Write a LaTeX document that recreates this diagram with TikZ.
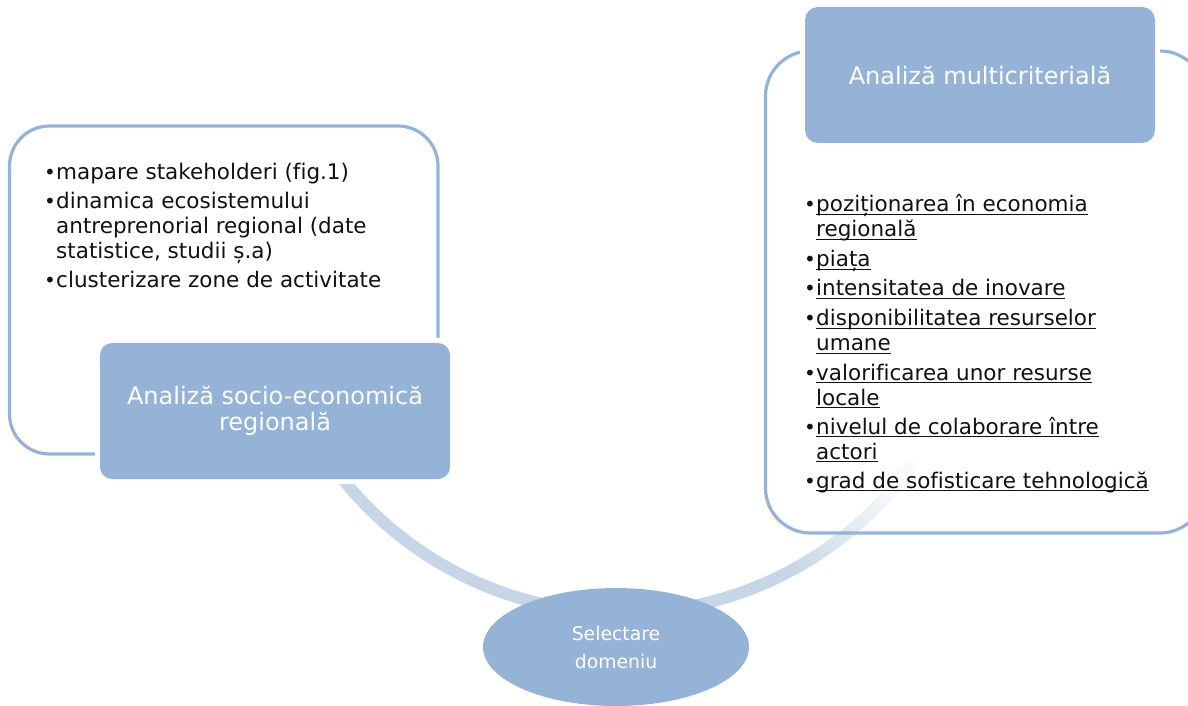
\documentclass[tikz,border=0pt]{standalone}
\usepackage{fontspec}
\setmainfont{DejaVu Sans}[Ligatures=NoCommon]
\usetikzlibrary{shapes.geometric}
\definecolor{boxblue}{HTML}{95B3D6}
\definecolor{bandblue}{HTML}{C6D6E6}
\definecolor{txt}{HTML}{111111}
\newcommand\myul[1]{\setbox0=\hbox{#1}\rlap{\rule[-3pt]{\wd0}{1.4pt}}\box0}
\newcommand\bulfont{\fontsize{21.5}{25}\selectfont}
\newcommand\titfont{\fontsize{24}{26}\selectfont}
\tikzset{
  outerbox/.style={draw=boxblue, line width=3.2pt},
  titlebox/.style={rectangle, rounded corners=12pt, fill=boxblue, text=white,
    preaction={draw=white, line width=10pt}, inner sep=0pt, align=center, font=\titfont},
  itemline/.style={anchor=base west, inner sep=0pt, text=txt, font=\bulfont},
  bulletmark/.style={anchor=base west, inner sep=0pt, text=txt, font=\fontsize{20}{20}\selectfont},
}
\begin{document}
\begin{tikzpicture}[x=1pt,y=1pt]
\useasboundingbox (0,0) rectangle (1188,705);
% circular band
\coordinate (C) at (622,450);
\draw[bandblue, line width=12pt] (C) ++(212:358pt) arc[start angle=212, end angle=299, radius=358pt];
\foreach \k in {0,...,21}{
  \pgfmathsetmacro\pc{96-4.2*\k}
  \pgfmathsetmacro\aa{298.5+\k}
  \draw[bandblue!\pc!white, line width=12pt] (C) ++(\aa:358pt) arc[start angle=\aa, end angle=\aa+1.15, radius=358pt];
}
\path (C) ++(321:345pt) coordinate (h1);
\path (C) ++(321:371pt) coordinate (h2);
\path (C) ++(325.6:358pt) coordinate (h3);
\fill[bandblue!12!white] (h1) -- (h2) -- (h3) -- cycle;
% outer boxes
\draw[outerbox, rounded corners=40pt] (9.5,251) rectangle (438,579);
\draw[outerbox, rounded corners=45pt] (765.5,172) rectangle (1205,654);
% title boxes
\node[titlebox, minimum width=350pt, minimum height=136pt] (lt) at (275,294) {Analiză socio-economică\\regională};
\node[titlebox, minimum width=350pt, minimum height=136pt, rounded corners=13pt] (rt) at (980,630) {Analiză multicriterială};
% ellipse
\node[ellipse, fill=boxblue, minimum width=266pt, minimum height=118pt, inner sep=0pt,
  text=white, align=center, font=\fontsize{18.8}{28}\selectfont] (sel) at (616,58) {Selectare\\domeniu};
% left bullets
\node[bulletmark] (lb1) at (44,525) {•};
\node[itemline] (l1) at (56,525) {mapare stakeholderi (fig.1)};
\node[bulletmark] (lb2) at (44,496) {•};
\node[itemline] (l2) at (56,496) {dinamica ecosistemului};
\node[itemline] (l3) at (56,471) {antreprenorial regional (date};
\node[itemline] (l4) at (56,446) {statistice, studii ș.a)};
\node[bulletmark] (lb3) at (44,417) {•};
\node[itemline] (l5) at (56,417) {clusterizare zone de activitate};
% right bullets
\node[bulletmark] (rb1) at (804,493) {•};
\node[itemline] (r1) at (816,493) {\myul{poziționarea în economia}};
\node[itemline] (r2) at (816,468) {\myul{regională}};
\node[bulletmark] (rb2) at (804,438) {•};
\node[itemline] (r3) at (816,438) {\myul{piața}};
\node[bulletmark] (rb3) at (804,409) {•};
\node[itemline] (r4) at (816,409) {\myul{intensitatea de inovare}};
\node[bulletmark] (rb4) at (804,379) {•};
\node[itemline] (r5) at (816,379) {\myul{disponibilitatea resurselor}};
\node[itemline] (r6) at (816,354) {\myul{umane}};
\node[bulletmark] (rb5) at (804,325) {•};
\node[itemline] (r7) at (816,325) {\myul{valorificarea unor resurse}};
\node[itemline] (r8) at (816,300) {\myul{locale}};
\node[bulletmark] (rb6) at (804,271) {•};
\node[itemline] (r9) at (816,271) {\myul{nivelul de colaborare între}};
\node[itemline] (r10) at (816,246) {\myul{actori}};
\node[bulletmark] (rb7) at (804,217) {•};
\node[itemline] (r11) at (816,217) {\myul{grad de sofisticare tehnologică}};
\end{tikzpicture}
\end{document}
